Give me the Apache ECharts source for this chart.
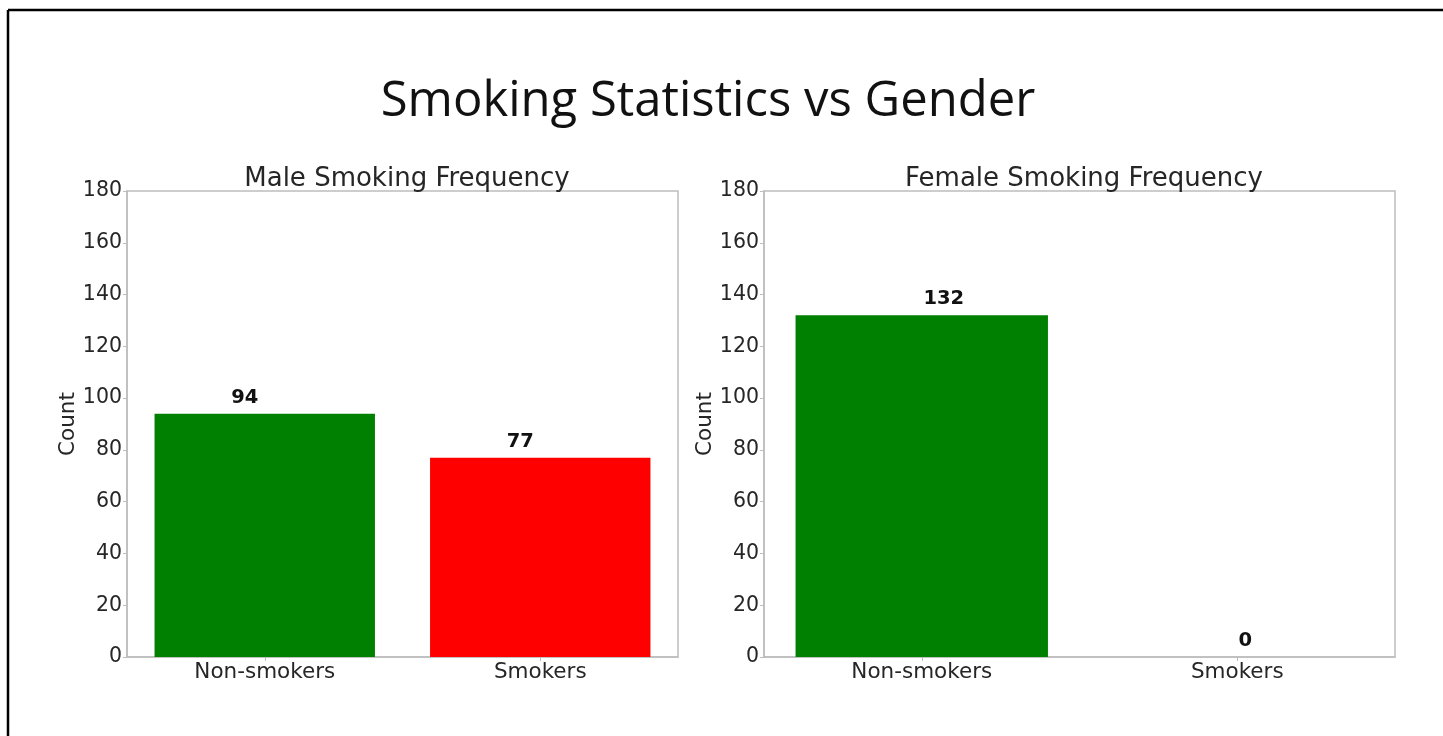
<!DOCTYPE html>
<html>
<head>
<meta charset="utf-8">
<script src="https://cdn.jsdelivr.net/npm/echarts@6/dist/echarts.min.js"></script>
<style>html,body{margin:0;padding:0;background:#fff}#c{width:1443px;height:736px}</style>
</head>
<body>
<div id="c"></div>
<script>
const categories = ['Non-smokers', 'Smokers'];
const maleCounts = [94, 77];
const femaleCounts = [132, 0];
const barColors = ['#008000', '#ff0000'];
const yTicks = [0, 20, 40, 60, 80, 100, 120, 140, 160, 180];

const chart = echarts.init(document.getElementById('c'), null, {renderer: 'canvas'});
const font = 'DejaVu Sans';
const txt = '#262626';
// horizontal nudges of the value labels, as placed in the original figure
const labelShift = [[-20, -20], [22, 8]];

function xAxis(i) {
  return {
    type: 'category', gridIndex: i, data: categories,
    axisLine: {show: true, lineStyle: {color: '#bdbdbd', width: 1.5}},
    axisTick: {show: true, alignWithLabel: true, length: 4, lineStyle: {color: '#bdbdbd'}},
    axisLabel: {color: txt, fontFamily: font, fontSize: 21.5, margin: 4}
  };
}
function yAxis(i) {
  return {
    type: 'value', gridIndex: i, min: yTicks[0], max: yTicks[yTicks.length - 1], interval: 20,
    name: 'Count', nameLocation: 'middle', nameGap: 48, nameRotate: 90,
    nameTextStyle: {color: txt, fontFamily: font, fontSize: 21.5},
    axisLine: {show: true, lineStyle: {color: '#bdbdbd', width: 1.5}},
    axisTick: {show: true, length: 4, lineStyle: {color: '#bdbdbd'}},
    splitLine: {show: false},
    axisLabel: {color: txt, fontFamily: font, fontSize: 20.5, margin: 5}
  };
}
function series(i, vals) {
  return {
    type: 'bar', xAxisIndex: i, yAxisIndex: i, barWidth: '80%',
    data: vals.map((v, k) => ({value: v, itemStyle: {color: barColors[k]},
      label: {offset: [labelShift[i][k], 0]}})),
    label: {show: true, position: 'top', distance: 6, color: '#111', fontFamily: font, fontWeight: 'bold', fontSize: 19.5}
  };
}

chart.setOption({
  animation: false,
  backgroundColor: '#fff',
  title: [
    {text: 'Smoking Statistics vs Gender', left: 703, top: 73, textAlign: 'center',
     textStyle: {fontFamily: 'Open Sans', fontWeight: 'normal', fontSize: 49, color: '#111'}},
    {text: 'Male Smoking Frequency', left: 402, top: 161, textAlign: 'center',
     textStyle: {fontFamily: font, fontWeight: 'normal', fontSize: 26, color: txt}},
    {text: 'Female Smoking Frequency', left: 1079, top: 161, textAlign: 'center',
     textStyle: {fontFamily: font, fontWeight: 'normal', fontSize: 26, color: txt}}
  ],
  grid: [
    {left: 127, right: 765, top: 191, bottom: 79, show: true, borderColor: '#bdbdbd', borderWidth: 1.5},
    {left: 764, right: 48, top: 191, bottom: 79, show: true, borderColor: '#bdbdbd', borderWidth: 1.5}
  ],
  xAxis: [xAxis(0), xAxis(1)],
  yAxis: [yAxis(0), yAxis(1)],
  series: [series(0, maleCounts), series(1, femaleCounts)],
  graphic: [
    {type: 'line', shape: {x1: 8, y1: 10, x2: 1443, y2: 10}, style: {stroke: '#000', lineWidth: 2.5}},
    {type: 'line', shape: {x1: 8, y1: 10, x2: 8, y2: 736}, style: {stroke: '#000', lineWidth: 2.5}}
  ]
});
</script>
</body>
</html>
